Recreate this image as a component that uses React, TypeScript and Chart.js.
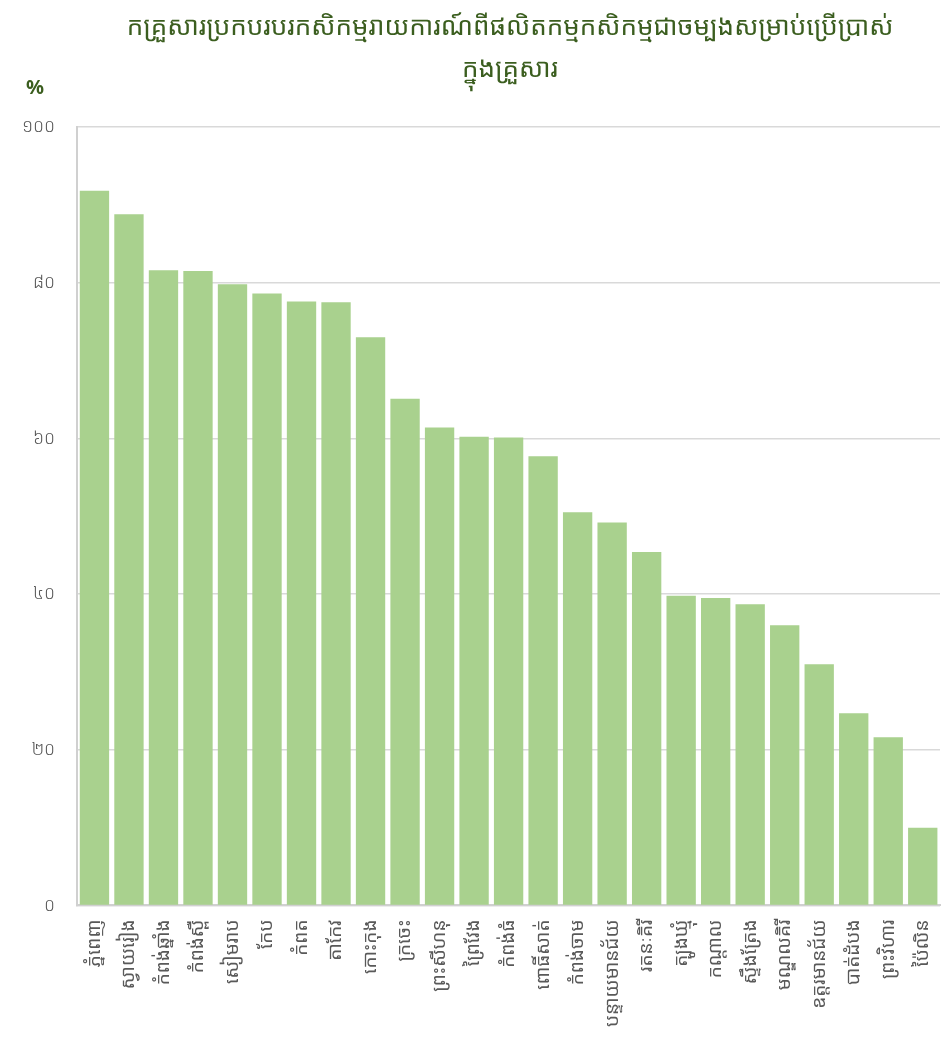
import React, { useEffect, useRef } from "react";
import { Chart, registerables } from "chart.js";

Chart.register(...registerables);

const titleLines = [
  "កគ្រួសារប្រកបរបរកសិកម្មរាយការណ៍ពីផលិតកម្មកសិកម្មជាចម្បងសម្រាប់ប្រើប្រាស់",
  "ក្នុងគ្រួសារ",
];
const unitLabel = "%";
const provinces = [
  "ភ្នំពេញ",
  "ស្វាយរៀង",
  "កំពង់ឆ្នាំង",
  "កំពង់ស្ពឺ",
  "សៀមរាប",
  "កែប",
  "កំពត",
  "តាកែវ",
  "កោះកុង",
  "ក្រចេះ",
  "ព្រះសីហនុ",
  "ព្រៃវែង",
  "កំពង់ធំ",
  "ពោធិ៍សាត់",
  "កំពង់ចាម",
  "បន្ទាយមានជ័យ",
  "រតនៈគិរី",
  "ត្បូងឃ្មុំ",
  "កណ្តាល",
  "ស្ទឹងត្រែង",
  "មណ្ឌលគិរី",
  "ឧត្តរមានជ័យ",
  "បាត់ដំបង",
  "ព្រះវិហារ",
  "ប៉ៃលិន",
];
const percentages = [
  91.8, 88.8, 81.6, 81.5, 79.8, 78.6, 77.6, 77.5, 73.0, 65.1, 61.4, 60.2, 60.1,
  57.7, 50.5, 49.2, 45.4, 39.8, 39.5, 38.7, 36.0, 31.0, 24.7, 21.6, 10.0,
];
const khmerDigits = ["០", "១", "២", "៣", "៤", "៥", "៦", "៧", "៨", "៩"];
const toKhmer = (n: number) =>
  String(n)
    .split("")
    .map((d) => (/[0-9]/.test(d) ? khmerDigits[Number(d)] : d))
    .join("");

const FONT = "'Noto Sans Khmer', 'Khmer OS', 'Khmer OS System', 'Noto Sans', sans-serif";

export default function App() {
  const ref = useRef<HTMLCanvasElement | null>(null);
  useEffect(() => {
    document.body.style.margin = "0";
    const canvas = ref.current;
    if (!canvas) return;
    const headerPlugin = {
      id: "header",
      afterDraw(chart: any) {
        const ctx = chart.ctx;
        ctx.save();
        ctx.fillStyle = "#3b5e1f";
        ctx.textAlign = "center";
        ctx.textBaseline = "middle";
        ctx.font = `normal 26px ${FONT}`;
        ctx.fillText(titleLines[0], 510, 28);
        ctx.fillText(titleLines[1], 510, 70);
        ctx.font = `bold 20px ${FONT}`;
        ctx.fillText(unitLabel, 35, 88);
        ctx.restore();
      },
    };
    const chart = new Chart(canvas, {
      type: "bar",
      data: {
        labels: provinces,
        datasets: [
          {
            data: percentages,
            backgroundColor: "#a9d18e",
            borderWidth: 0,
            barPercentage: 0.85,
            categoryPercentage: 1,
          },
        ],
      },
      options: {
        animation: false,
        responsive: false,
        layout: { padding: { left: 0, right: 3, top: 127, bottom: 0 } },
        plugins: {
          legend: { display: false },
          tooltip: { enabled: false },
          title: { display: false },
        },
        scales: {
          x: {
            grid: { display: false, drawTicks: false },
            border: { display: true, color: "#d0d0d0", width: 2 },
            afterFit: (scale: any) => {
              scale.paddingRight = 0;
            },
            ticks: {
              color: "#595959",
              font: { family: FONT, size: 19 },
              maxRotation: 90,
              minRotation: 90,
              autoSkip: false,
              padding: 14,
            },
          },
          y: {
            min: 0,
            max: 100,
            grid: { color: "#d9d9d9", lineWidth: 1.5, drawTicks: false },
            border: { display: true, color: "#d0d0d0", width: 2 },
            ticks: {
              stepSize: 20,
              color: "#595959",
              font: { family: FONT, size: 18, weight: 300 },
              padding: 22,
              callback: (v: any) => toKhmer(Number(v)),
            },
          },
        },
      },
      plugins: [headerPlugin],
    });
    return () => chart.destroy();
  }, []);
  return <canvas ref={ref} width={943} height={1041} style={{ display: "block" }} />;
}
